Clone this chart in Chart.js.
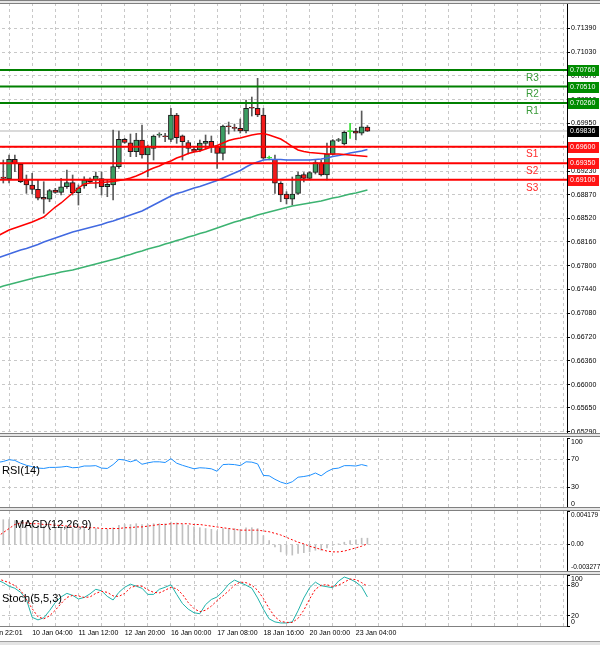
<!DOCTYPE html>
<html>
<head>
<meta charset="utf-8">
<title>H4 chart</title>
<script src="https://cdn.jsdelivr.net/npm/chart.js@4.4.1/dist/chart.umd.min.js"></script>
<style>
  html, body { margin: 0; padding: 0; background: #fff; }
  body { position: relative; width: 600px; height: 645px; overflow: hidden; font-family: "Liberation Sans", Arial, sans-serif; }
  canvas { position: absolute; left: -40px; }
  .sep { position: absolute; left: 0; width: 600px; height: 2px; background: #e6e6e6; border-top: 1px solid #808080; border-bottom: 1px solid #808080; z-index: 5; }
  .name { position: absolute; font-size: 11px; line-height: 12px; color: #000; z-index: 6; white-space: nowrap; }
  .foot { position: absolute; left: 0; top: 641px; width: 600px; height: 4px; background: #e4e4e4; border-top: 1px solid #a0a0a0; }
</style>
</head>
<body>
<canvas id="main" width="640" height="450" style="top:-7px"></canvas>
<canvas id="rsi" width="640" height="90" style="top:428px"></canvas>
<canvas id="macd" width="640" height="80" style="top:501px"></canvas>
<canvas id="stoch" width="640" height="75" style="top:565px"></canvas>
<div class="sep" style="top:0px"></div>
<div class="sep" style="top:433px"></div>
<div class="sep" style="top:507px"></div>
<div class="sep" style="top:571px"></div>
<div class="foot"></div>
<div class="name" style="left:2px;top:464px">RSI(14)</div>
<div class="name" style="left:15px;top:518px">MACD(12,26,9)</div>
<div class="name" style="left:2px;top:592px">Stoch(5,5,3)</div>
<script>
// H4 candles, one entry per bar
const opens = [0.69142, 0.69112, 0.69409, 0.69338, 0.69096, 0.69021, 0.68956, 0.68835, 0.68805, 0.68945,
  0.6891, 0.68995, 0.69056, 0.68904, 0.69006, 0.69112, 0.69096, 0.69119, 0.68995, 0.69021,
  0.69298, 0.69712, 0.6966, 0.69524, 0.69701, 0.69474, 0.69576, 0.69774, 0.69754, 0.69712,
  0.70079, 0.69766, 0.69663, 0.69565, 0.6955, 0.69648, 0.69682, 0.69603, 0.695, 0.69905,
  0.69883, 0.69878, 0.69837, 0.70185, 0.70181, 0.70079, 0.69425, 0.69409, 0.69047, 0.68885,
  0.68805, 0.68895, 0.6918, 0.69122, 0.69213, 0.69358, 0.69172, 0.69485, 0.69694, 0.69641,
  0.69828, 0.69837, 0.69803, 0.69898];
const closes = [0.69122, 0.69409, 0.69349, 0.69071, 0.69021, 0.68956, 0.6882, 0.68805, 0.68935, 0.6891,
  0.68995, 0.69056, 0.68904, 0.6898, 0.69096, 0.69071, 0.69157, 0.68995, 0.69031, 0.69301,
  0.69712, 0.69663, 0.69524, 0.69701, 0.69474, 0.696, 0.69762, 0.69777, 0.69751, 0.70079,
  0.69736, 0.69676, 0.69576, 0.6953, 0.69656, 0.69682, 0.696, 0.695, 0.69913, 0.69902,
  0.69878, 0.69837, 0.70181, 0.70181, 0.70079, 0.69425, 0.69425, 0.69047, 0.6887, 0.68809,
  0.68885, 0.69172, 0.69122, 0.6921, 0.69361, 0.69172, 0.6949, 0.69691, 0.69697, 0.69818,
  0.69828, 0.69803, 0.69902, 0.69836];
const highs = [0.69399, 0.69474, 0.69474, 0.69349, 0.69172, 0.69198, 0.69096, 0.69071, 0.68956, 0.68971,
  0.69122, 0.69248, 0.69172, 0.69021, 0.69146, 0.69131, 0.69217, 0.69217, 0.69096, 0.69852,
  0.69837, 0.69727, 0.69792, 0.69803, 0.69928, 0.69626, 0.69777, 0.69812, 0.69803, 0.70181,
  0.70105, 0.69777, 0.69694, 0.696, 0.69701, 0.69777, 0.69762, 0.69626, 0.69928, 0.69973,
  0.69943, 0.70019, 0.70306, 0.70351, 0.70634, 0.70181, 0.69459, 0.69474, 0.69071, 0.6892,
  0.69142, 0.69217, 0.6921, 0.69222, 0.69399, 0.69399, 0.69656, 0.69709, 0.69727, 0.69837,
  0.69954, 0.69878, 0.7014, 0.6992];
const lows = [0.69051, 0.69051, 0.69222, 0.69056, 0.68895, 0.68885, 0.68794, 0.68593, 0.68768, 0.68895,
  0.6887, 0.68971, 0.6887, 0.68718, 0.68971, 0.69056, 0.68975, 0.6887, 0.68844, 0.68794,
  0.69273, 0.69651, 0.69449, 0.69449, 0.69425, 0.69146, 0.69399, 0.69742, 0.69676, 0.69676,
  0.69651, 0.69399, 0.6949, 0.6952, 0.69524, 0.69565, 0.69512, 0.69273, 0.69399, 0.69792,
  0.69837, 0.69807, 0.69807, 0.70064, 0.70054, 0.69409, 0.69399, 0.68895, 0.68768, 0.68734,
  0.68718, 0.68877, 0.69066, 0.69096, 0.69187, 0.69157, 0.69096, 0.69474, 0.69676, 0.69626,
  0.69727, 0.69701, 0.69777, 0.6983];

// indicator lines start one bar before the first candle (index -1)
const maRed = [0.6825, 0.68295, 0.6834, 0.68371, 0.68401, 0.68431, 0.68461, 0.685, 0.68537, 0.68613,
  0.68688, 0.68749, 0.68824, 0.689, 0.68975, 0.69036, 0.69051, 0.69051, 0.69059, 0.69066,
  0.69074, 0.69089, 0.69104, 0.69127, 0.69157, 0.69195, 0.6924, 0.69278, 0.69308, 0.69353,
  0.69384, 0.69429, 0.69459, 0.69497, 0.6952, 0.69535, 0.69565, 0.69595, 0.69619, 0.69656,
  0.69694, 0.69716, 0.69731, 0.69754, 0.69777, 0.69792, 0.698, 0.69777, 0.69747, 0.69716,
  0.69663, 0.69603, 0.6955, 0.69527, 0.69512, 0.69505, 0.69497, 0.6949, 0.6949, 0.6949,
  0.69482, 0.69474, 0.69467, 0.69459, 0.69452];
const maBlue = [0.67917, 0.67947, 0.67978, 0.68008, 0.68038, 0.68061, 0.68091, 0.68121, 0.68159, 0.68189,
  0.6822, 0.6825, 0.6828, 0.6831, 0.68333, 0.68356, 0.68378, 0.68401, 0.68424, 0.68454,
  0.68477, 0.68507, 0.68537, 0.68567, 0.68597, 0.68628, 0.68673, 0.68718, 0.68764, 0.68809,
  0.68855, 0.68892, 0.68915, 0.68945, 0.68975, 0.68998, 0.69028, 0.69059, 0.69089, 0.69127,
  0.69164, 0.69202, 0.6924, 0.69293, 0.69338, 0.69369, 0.69399, 0.69406, 0.69406, 0.69406,
  0.69399, 0.69399, 0.69399, 0.69399, 0.69399, 0.69406, 0.69414, 0.69429, 0.69452, 0.69467,
  0.69482, 0.69505, 0.6952, 0.69535, 0.69558];
const maGreen = [0.67463, 0.67494, 0.67516, 0.67539, 0.67562, 0.67584, 0.67607, 0.6763, 0.67645, 0.67667,
  0.67683, 0.67705, 0.6772, 0.67735, 0.67758, 0.67781, 0.67804, 0.67826, 0.67849, 0.67872,
  0.67894, 0.67917, 0.67947, 0.6797, 0.68, 0.68023, 0.68053, 0.68076, 0.68098, 0.68129,
  0.68151, 0.68182, 0.68204, 0.68235, 0.68257, 0.68287, 0.6831, 0.6834, 0.68371, 0.68401,
  0.68431, 0.68461, 0.68484, 0.68515, 0.68537, 0.68567, 0.6859, 0.68613, 0.68635, 0.68658,
  0.68681, 0.68703, 0.68718, 0.68734, 0.68749, 0.68764, 0.68779, 0.68802, 0.68824, 0.6884,
  0.68862, 0.68885, 0.689, 0.68922, 0.68945];
const rsi = [65, 66.5, 69, 68, 64, 61, 59, 57, 56.5, 58, 58, 58.5, 59.5, 57.5, 58, 60, 60, 60.5, 57, 56.5,
  62, 69.5, 68.5, 66, 68.5, 62.5, 64.5, 66, 66, 65, 70.5, 64, 61, 58.5, 56, 57.5, 57, 56, 52.5, 62,
  62.5, 62, 60.5, 66, 65.5, 63, 46.5, 46, 41, 37, 34.5, 37.5, 44, 45, 46.5, 50, 46, 52, 56, 57,
  60.5, 60.5, 60, 62, 60];
const macdMain = [0.003, 0.0031, 0.0031, 0.003, 0.0029, 0.0027, 0.0026, 0.0024, 0.0023, 0.0022,
  0.0021, 0.0021, 0.0021, 0.002, 0.002, 0.002, 0.002, 0.002, 0.0019, 0.0019,
  0.0021, 0.0024, 0.0025, 0.0025, 0.0026, 0.0025, 0.0025, 0.0026, 0.0026, 0.0026,
  0.0028, 0.0027, 0.0025, 0.0024, 0.0022, 0.0021, 0.002, 0.0019, 0.0017, 0.002,
  0.002, 0.002, 0.0019, 0.0021, 0.0021, 0.002, 0.0011, 0.0005, -0.0003, -0.0009,
  -0.0012, -0.0013, -0.0011, -0.001, -0.0009, -0.0007, -0.0007, -0.0004, -0.0001, 0.0001,
  0.0003, 0.0005, 0.0006, 0.0008, 0.0008];
const macdSignal = [0.001, 0.0015, 0.002, 0.0025, 0.0027, 0.0027, 0.0026, 0.0026, 0.0025, 0.0025,
  0.0024, 0.0024, 0.0023, 0.0023, 0.0022, 0.0022, 0.0021, 0.0021, 0.002, 0.002,
  0.002, 0.002, 0.0021, 0.0021, 0.0022, 0.0022, 0.0023, 0.0024, 0.0025, 0.0025,
  0.0026, 0.0026, 0.0026, 0.0026, 0.0025, 0.0025, 0.0024, 0.0023, 0.0022, 0.0021,
  0.002, 0.0019, 0.0018, 0.0018, 0.0018, 0.0018, 0.0017, 0.0016, 0.0014, 0.0012,
  0.0009, 0.0006, 0.0003, 0.0001, -0.0002, -0.0004, -0.0006, -0.0008, -0.0009, -0.0009,
  -0.0008, -0.0006, -0.0004, -0.0002, 0.0001];
const stochMain = [90, 85, 78, 74, 66, 52, 17, 12, 16, 30, 46, 57, 64, 60, 53, 56, 63, 72, 69, 58,
  51, 66, 76, 82, 78, 74, 62, 62, 72, 76, 81, 62, 44, 33, 26, 24, 42, 52, 57, 68,
  82, 90, 85, 80, 74, 55, 33, 14, 8, 6, 6, 8, 30, 55, 75, 86, 79, 77, 75, 88,
  96, 92, 86, 77, 57];
const stochSignal = [93, 89, 85, 79, 70, 52, 34, 18, 14, 20, 31, 44, 56, 60, 59, 56, 57, 64, 68, 66,
  59, 58, 64, 75, 79, 78, 71, 66, 65, 70, 76, 73, 62, 46, 34, 28, 31, 39, 50, 59,
  69, 80, 86, 85, 80, 70, 54, 34, 18, 9, 7, 7, 15, 31, 53, 72, 80, 81, 77, 80,
  86, 92, 91, 85, 78];

const levelNames = ['R3', 'R2', 'R1', 'S1', 'S2', 'S3'];
const levelValues = [0.7076, 0.7051, 0.7026, 0.696, 0.6935, 0.691];
const lastPrice = 0.69836;

const priceTicks = [0.7139, 0.7103, 0.7067, 0.7031, 0.6995, 0.6959, 0.6923, 0.6887, 0.6852,
  0.6816, 0.678, 0.6744, 0.6708, 0.6672, 0.6636, 0.66, 0.6565, 0.6529];
const rsiTicks = [0, 30, 70, 100];
const macdTicks = [-0.003277, 0, 0.004179];
const stochTicks = [0, 20, 80, 100];
const timeLabelAt = [-3, 5, 13, 21, 29, 37, 45, 53, 61];
const timeLabels = ['9 Jan 22:01', '10 Jan 04:00', '11 Jan 12:00', '12 Jan 20:00', '16 Jan 00:00',
  '17 Jan 08:00', '18 Jan 16:00', '20 Jan 00:00', '23 Jan 04:00'];

const X_MIN = -7.49, X_MAX = 97.53;
const GRID = '#c8c8c8';
const BULL = '#3c9e63', BEAR = '#f21a1a', LIME = '#33dd33', WICK = '#5a5a5a';
const FONT = '"Liberation Sans", Arial, sans-serif';

Chart.defaults.font.family = FONT;
Chart.defaults.font.size = 7;
Chart.defaults.color = '#000';

const gridIdx = [];
for (let v = -3; v <= X_MAX; v += 4) gridIdx.push(v);

function xAxis(bottom) {
  return {
    type: 'linear', min: X_MIN, max: X_MAX, offset: false,
    afterBuildTicks: s => { s.ticks = gridIdx.map(v => ({ value: v })); },
    afterFit: s => { s.height = bottom ? 14 : 0; },
    ticks: {
      display: bottom, autoSkip: false, maxRotation: 0, minRotation: 0, align: 'start', padding: 3,
      callback: v => { const k = timeLabelAt.indexOf(v); return k < 0 ? '' : timeLabels[k]; }
    },
    grid: { color: GRID, drawTicks: false, offset: false },
    border: { display: bottom, color: '#808080', dash: [3, 3] }
  };
}

// the edge labels of a sub window sit just inside it, as in the terminal
function edgeLabel(text, isTop) {
  return isTop ? ['', text] : [text, ''];
}

function yAxis(min, max, tickVals, fmt, hasGrid, fontSize) {
  return {
    position: 'right', min, max,
    afterBuildTicks: s => { s.ticks = tickVals.map(v => ({ value: v })); },
    afterFit: s => { s.width = 33; },
    ticks: { callback: fmt, padding: 1, autoSkip: false, font: { size: fontSize || 7 } },
    grid: {
      color: c => (c.tick && hasGrid(c.tick.value)) ? GRID : 'rgba(0,0,0,0)',
      tickLength: 3, tickColor: '#000', tickBorderDash: []
    },
    border: { display: true, color: '#000', dash: [3, 3] }
  };
}

const baseOptions = (scales, pad) => ({
  responsive: false, animation: false, devicePixelRatio: 1,
  layout: { padding: pad },
  plugins: { legend: { display: false }, tooltip: { enabled: false } },
  scales
});

const line = (data, color, width, dash, order) => ({
  type: 'line', data: data.map((v, k) => ({ x: k - 1, y: v })),
  borderColor: color, borderWidth: width, borderDash: dash, pointRadius: 0, tension: 0, order
});

const isDojiUp = i => opens[i] === closes[i];
const candleIdx = opens.map((_, i) => i);

const levelPlugin = {
  id: 'levels',
  afterDraw(chart) {
    const { ctx, chartArea, scales: { y } } = chart;
    ctx.save();
    ctx.textBaseline = 'middle';
    ctx.font = '10px ' + FONT;
    levelNames.forEach((name, k) => {
      const py = y.getPixelForValue(levelValues[k]);
      ctx.fillStyle = name[0] === 'R' ? '#3a9b3a' : '#ff2a2a';
      ctx.fillText(name, chartArea.right - 41, py + 8);
    });
    ctx.font = '7px ' + FONT;
    const tag = (v, bg) => {
      const py = y.getPixelForValue(v);
      ctx.fillStyle = bg;
      ctx.fillRect(chartArea.right + 1, Math.round(py) - 5, 31, 11);
      ctx.fillStyle = '#fff';
      ctx.fillText(v.toFixed(5), chartArea.right + 3, Math.round(py) + 0.5);
    };
    levelNames.forEach((name, k) => tag(levelValues[k], name[0] === 'R' ? '#008c00' : '#ff1414'));
    tag(lastPrice, '#000');
    ctx.restore();
  }
};

const levelSets = levelNames.map((name, k) => ({
  type: 'line', data: [{ x: X_MIN, y: levelValues[k] }, { x: X_MAX, y: levelValues[k] }],
  borderColor: name[0] === 'R' ? '#008000' : '#ff0000', borderWidth: 2, pointRadius: 0, order: 0
}));

new Chart(document.getElementById('main'), {
  type: 'line',
  data: {
    datasets: [
      ...levelSets,
      line(maRed, '#ff0000', 1.5, [], 1),
      line(maBlue, '#4169e1', 1.5, [], 1),
      line(maGreen, '#3cb371', 1.5, [], 1),
      {
        type: 'bar', data: candleIdx.map(i => ({ x: i, y: [opens[i], closes[i]] })),
        backgroundColor: c => isDojiUp(c.dataIndex) ? LIME : (closes[c.dataIndex] > opens[c.dataIndex] ? BULL : BEAR),
        borderColor: c => isDojiUp(c.dataIndex) ? LIME : '#1a1a1a',
        borderWidth: 1, borderSkipped: false, barThickness: 5, minBarLength: 1, grouped: false, order: 2
      },
      {
        type: 'bar', data: candleIdx.map(i => ({ x: i, y: [lows[i], highs[i]] })),
        backgroundColor: c => isDojiUp(c.dataIndex) ? LIME : WICK,
        barThickness: 1, grouped: false, order: 3
      },
      {
        type: 'line', data: [{ x: X_MIN, y: lastPrice }, { x: X_MAX, y: lastPrice }],
        borderColor: '#dadada', borderWidth: 2, pointRadius: 0, order: 4
      }
    ]
  },
  options: baseOptions({
    x: xAxis(false),
    y: yAxis(0.65271, 0.71773, priceTicks, v => v.toFixed(5), () => true)
  }, { top: 10, bottom: 10, left: 0, right: 0 }),
  plugins: [levelPlugin]
});

new Chart(document.getElementById('rsi'), {
  type: 'line',
  data: { datasets: [line(rsi, '#1e90ff', 1, [], 0)] },
  options: baseOptions({
    x: xAxis(false),
    y: yAxis(0, 100, rsiTicks,
      v => v === 100 ? edgeLabel('100', true) : v === 0 ? edgeLabel('0', false) : String(v),
      v => v === 30 || v === 70)
  }, { top: 10, bottom: 10, left: 0, right: 0 })
});

new Chart(document.getElementById('macd'), {
  type: 'line',
  data: {
    datasets: [
      line(macdSignal, '#ff0000', 1, [2, 2], 0),
      {
        type: 'bar', data: macdMain.map((v, k) => ({ x: k - 1, y: v })),
        backgroundColor: '#c0c0c0', barThickness: 1, grouped: false, order: 1
      }
    ]
  },
  options: baseOptions({
    x: xAxis(false),
    y: yAxis(-0.003277, 0.004179, macdTicks,
      v => v === 0 ? '0.00' : edgeLabel(v.toFixed(6), v > 0),
      v => v === 0, 6.5)
  }, { top: 10, bottom: 10, left: 0, right: 0 })
});

new Chart(document.getElementById('stoch'), {
  type: 'line',
  data: {
    datasets: [
      line(stochSignal, '#ff0000', 1, [2, 2], 0),
      line(stochMain, '#20b2aa', 1, [], 1)
    ]
  },
  options: baseOptions({
    x: xAxis(true),
    y: yAxis(0, 100, stochTicks,
      v => v === 100 ? edgeLabel('100', true) : v === 0 ? edgeLabel('0', false) : String(v),
      v => v === 20 || v === 80)
  }, { top: 10, bottom: 0, left: 0, right: 0 })
});
</script>
</body>
</html>
